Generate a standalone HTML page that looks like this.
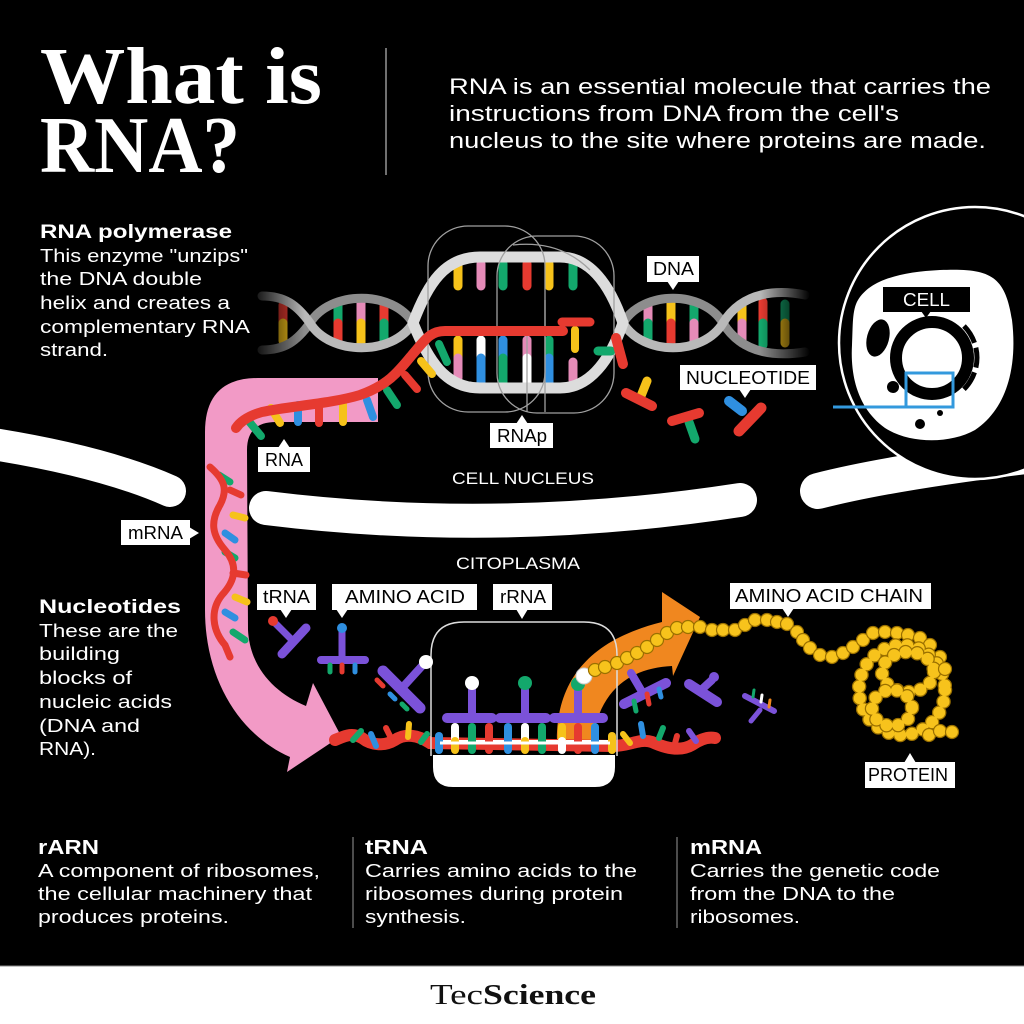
<!DOCTYPE html>
<html>
<head>
<meta charset="utf-8">
<style>
html,body{margin:0;padding:0;background:#000;}
svg{display:block;}
text{font-family:"Liberation Sans",Arial,sans-serif;}
.lbl{font-size:18px;fill:#000;}
.w{fill:#fff;}
</style>
</head>
<body>
<svg width="1024" height="1024" viewBox="0 0 1024 1024" xmlns="http://www.w3.org/2000/svg">
<defs>
  <linearGradient id="fadeL" x1="0" x2="1" y1="0" y2="0">
    <stop offset="0" stop-color="#000" stop-opacity="1"/>
    <stop offset="1" stop-color="#000" stop-opacity="0"/>
  </linearGradient>
  <linearGradient id="fadeR" x1="0" x2="1" y1="0" y2="0">
    <stop offset="0" stop-color="#000" stop-opacity="0"/>
    <stop offset="1" stop-color="#000" stop-opacity="1"/>
  </linearGradient>
</defs>
<rect x="0" y="0" width="1024" height="1024" fill="#000"/>

<!-- ===== Header ===== -->
<text x="40" y="103" font-family="Liberation Serif, serif" font-weight="bold" font-size="80" fill="#fff" textLength="282" lengthAdjust="spacingAndGlyphs" style="font-family:'Liberation Serif',serif">What is</text>
<text x="40" y="172" font-family="Liberation Serif, serif" font-weight="bold" font-size="80" fill="#fff" textLength="200" lengthAdjust="spacingAndGlyphs" style="font-family:'Liberation Serif',serif">RNA?</text>
<line x1="386" y1="48" x2="386" y2="175" stroke="#bbb" stroke-width="1.2"/>
<g font-size="22" fill="#fff">
<text x="449" y="94" textLength="542" lengthAdjust="spacingAndGlyphs">RNA is an essential molecule that carries the</text>
<text x="449" y="121" textLength="450" lengthAdjust="spacingAndGlyphs">instructions from DNA from the cell's</text>
<text x="449" y="148" textLength="537" lengthAdjust="spacingAndGlyphs">nucleus to the site where proteins are made.</text>
</g>

<!-- RNA polymerase text -->
<g fill="#fff" font-size="18.5">
<text x="40" y="238" font-weight="bold" font-size="19" textLength="192" lengthAdjust="spacingAndGlyphs">RNA polymerase</text>
<text x="40" y="262" textLength="208" lengthAdjust="spacingAndGlyphs">This enzyme "unzips"</text>
<text x="40" y="285" textLength="162" lengthAdjust="spacingAndGlyphs">the DNA double</text>
<text x="40" y="309" textLength="190" lengthAdjust="spacingAndGlyphs">helix and creates a</text>
<text x="40" y="333" textLength="210" lengthAdjust="spacingAndGlyphs">complementary RNA</text>
<text x="40" y="356" textLength="68" lengthAdjust="spacingAndGlyphs">strand.</text>
</g>

<!-- Nucleotides text -->
<g fill="#fff" font-size="18.5">
<text x="39" y="613" font-weight="bold" font-size="19" textLength="142" lengthAdjust="spacingAndGlyphs">Nucleotides</text>
<text x="39" y="637" textLength="139" lengthAdjust="spacingAndGlyphs">These are the</text>
<text x="39" y="660" textLength="81" lengthAdjust="spacingAndGlyphs">building</text>
<text x="39" y="684" textLength="93" lengthAdjust="spacingAndGlyphs">blocks of</text>
<text x="39" y="708" textLength="133" lengthAdjust="spacingAndGlyphs">nucleic acids</text>
<text x="39" y="732" textLength="101" lengthAdjust="spacingAndGlyphs">(DNA and</text>
<text x="39" y="755" textLength="57" lengthAdjust="spacingAndGlyphs">RNA).</text>
</g>

<!-- ===== Nuclear membrane bands ===== -->
<g stroke="#fff" stroke-linecap="round" fill="none">
  <path d="M-20,442 Q100,460 170,491" stroke-width="32"/>
  <path d="M266,508 Q500,537 740,500" stroke-width="34"/>
  <path d="M818,491 Q900,470 1060,452" stroke-width="36"/>
</g>

<!-- ===== Cell circle ===== -->
<circle cx="975" cy="343" r="136" fill="#000" stroke="#fff" stroke-width="2.5"/>
<path d="M858,300 C870,280 900,272 940,270 C990,268 1005,275 1012,320 C1018,370 1005,410 975,430 C950,444 910,444 885,428 C860,410 850,380 852,345 C853,325 852,310 858,300 Z" fill="#fff"/>
<ellipse cx="878" cy="338" rx="11" ry="19" transform="rotate(15 878 338)" fill="#000"/>
<circle cx="932" cy="358" r="36" fill="none" stroke="#000" stroke-width="12"/>
<path d="M964,326 A45,45 0 0 1 961,392" fill="none" stroke="#000" stroke-width="5" stroke-dasharray="20 5"/>
<circle cx="893" cy="387" r="6" fill="#000"/>
<circle cx="920" cy="424" r="5" fill="#000"/>
<circle cx="940" cy="413" r="3" fill="#000"/>
<rect x="906" y="373" width="47" height="34" fill="none" stroke="#3399dd" stroke-width="3"/>
<line x1="833" y1="407" x2="907" y2="407" stroke="#3399dd" stroke-width="3"/>
<rect x="883" y="287" width="87" height="25" fill="#000"/>
<polygon points="921,311 931,311 926,318" fill="#000"/>
<text x="903" y="306" font-size="18" fill="#fff" textLength="47" lengthAdjust="spacingAndGlyphs">CELL</text>

<!-- ===== Section labels ===== -->
<text x="452" y="484" font-size="17" fill="#fff" textLength="142" lengthAdjust="spacingAndGlyphs">CELL NUCLEUS</text>
<text x="456" y="569" font-size="17" fill="#fff" textLength="124" lengthAdjust="spacingAndGlyphs">CITOPLASMA</text>

<!-- ===== Pink arrow ===== -->
<path d="M378,378 L258,378 Q205,378 205,432 L205,610 C205,680 240,735 290,757 L287,772 L341,736 L313,683 L306,706 C275,693 250,668 248,630 L247,450 Q247,422 276,422 L378,422 Z" fill="#f29ac6"/>

<!-- mRNA vertical wave -->
<g stroke-linecap="round" fill="none">
  <g stroke-width="7">
    <line x1="219" y1="475" x2="230" y2="482" stroke="#13a86c"/>
    <line x1="230" y1="490" x2="241" y2="495" stroke="#e63a30"/>
    <line x1="233" y1="515" x2="245" y2="518" stroke="#f6c21a"/>
    <line x1="225" y1="533" x2="235" y2="540" stroke="#2f8fe0"/>
    <line x1="225" y1="552" x2="235" y2="558" stroke="#13a86c"/>
    <line x1="233" y1="573" x2="246" y2="575" stroke="#e63a30"/>
    <line x1="235" y1="597" x2="247" y2="602" stroke="#f6c21a"/>
    <line x1="225" y1="612" x2="235" y2="618" stroke="#2f8fe0"/>
    <line x1="233" y1="632" x2="245" y2="640" stroke="#13a86c"/>
  </g>
  <path d="M210,467 C225,480 228,490 220,505 C210,522 212,535 225,550 C238,565 236,580 222,595 C210,610 212,630 225,645 L230,657" stroke="#e63a30" stroke-width="7"/>
</g>

<!-- ===== DNA ===== -->
<!-- left helix bases -->
<g stroke-width="9" stroke-linecap="round">
  <line x1="283" y1="305" x2="283" y2="323" stroke="#e63a30"/><line x1="283" y1="323" x2="283" y2="341" stroke="#f6c21a"/>
  <line x1="338" y1="304" x2="338" y2="323" stroke="#13a86c"/><line x1="338" y1="323" x2="338" y2="343" stroke="#e63a30"/>
  <line x1="361" y1="302" x2="361" y2="323" stroke="#e58bb8"/><line x1="361" y1="323" x2="361" y2="345" stroke="#f6c21a"/>
  <line x1="384" y1="304" x2="384" y2="323" stroke="#e63a30"/><line x1="384" y1="323" x2="384" y2="343" stroke="#13a86c"/>
  <!-- right helix -->
  <line x1="648" y1="304" x2="648" y2="323" stroke="#e58bb8"/><line x1="648" y1="323" x2="648" y2="343" stroke="#13a86c"/>
  <line x1="671" y1="302" x2="671" y2="323" stroke="#f6c21a"/><line x1="671" y1="323" x2="671" y2="345" stroke="#e63a30"/>
  <line x1="694" y1="304" x2="694" y2="323" stroke="#13a86c"/><line x1="694" y1="323" x2="694" y2="343" stroke="#e58bb8"/>
  <line x1="742" y1="304" x2="742" y2="323" stroke="#f6c21a"/><line x1="742" y1="323" x2="742" y2="343" stroke="#e58bb8"/>
  <line x1="763" y1="302" x2="763" y2="323" stroke="#e63a30"/><line x1="763" y1="323" x2="763" y2="345" stroke="#13a86c"/>
  <line x1="785" y1="304" x2="785" y2="323" stroke="#13a86c"/><line x1="785" y1="323" x2="785" y2="343" stroke="#f6c21a"/>
</g>
<!-- helix strands -->
<g fill="none" stroke-width="9" stroke-linecap="round">
  <path d="M262,350 C285,350 297,341 310,323 C330,290 393,290 413,323" stroke="#8d8d8d"/>
  <path d="M262,296 C285,296 297,305 310,323 C330,356 393,356 413,323" stroke="#b9b9b9"/>
  <path d="M623,323 C643,290 703,290 723,323 C743,356 780,356 805,352" stroke="#8d8d8d"/>
  <path d="M623,323 C643,356 703,356 723,323 C743,290 780,290 805,295" stroke="#b9b9b9"/>
</g>
<rect x="250" y="280" width="55" height="85" fill="url(#fadeL)"/>
<rect x="760" y="280" width="50" height="85" fill="url(#fadeR)"/>

<!-- bubble bases -->
<g stroke-width="9" stroke-linecap="round">
  <line x1="458" y1="266" x2="458" y2="286" stroke="#f6c21a"/>
  <line x1="481" y1="264" x2="481" y2="286" stroke="#e58bb8"/>
  <line x1="503" y1="264" x2="503" y2="286" stroke="#13a86c"/>
  <line x1="527" y1="264" x2="527" y2="286" stroke="#e63a30"/>
  <line x1="549" y1="264" x2="549" y2="286" stroke="#f6c21a"/>
  <line x1="573" y1="264" x2="573" y2="286" stroke="#13a86c"/>

  <line x1="458" y1="340" x2="458" y2="358" stroke="#f6c21a"/><line x1="458" y1="358" x2="458" y2="378" stroke="#e58bb8"/>
  <line x1="481" y1="340" x2="481" y2="358" stroke="#ffffff"/><line x1="481" y1="358" x2="481" y2="383" stroke="#2f8fe0"/>
  <line x1="503" y1="340" x2="503" y2="358" stroke="#2f8fe0"/><line x1="503" y1="358" x2="503" y2="383" stroke="#13a86c"/>
  <line x1="527" y1="340" x2="527" y2="358" stroke="#e58bb8"/><line x1="527" y1="358" x2="527" y2="383" stroke="#ffffff"/>
  <line x1="549" y1="340" x2="549" y2="358" stroke="#13a86c"/><line x1="549" y1="358" x2="549" y2="383" stroke="#2f8fe0"/>
  <line x1="573" y1="362" x2="573" y2="380" stroke="#e58bb8"/>
</g>
<!-- bubble strands -->
<g fill="none" stroke="#dcdcdc" stroke-width="11" stroke-linecap="round">
  <path d="M413,323 C428,283 445,257 480,257 L560,257 C590,257 610,285 623,323"/>
  <path d="M413,323 C428,360 445,388 480,388 L560,388 C590,388 610,360 623,323"/>
</g>

<!-- RNAp outlines -->
<g fill="none" stroke="#a0a0a0" stroke-width="1.3">
  <rect x="428" y="226" width="117" height="186" rx="40"/>
  <rect x="497" y="236" width="117" height="177" rx="40"/>
  <path d="M513,245 Q560,240 590,270"/>
  <line x1="527" y1="330" x2="527" y2="412"/>
  <line x1="545" y1="300" x2="545" y2="412"/>
</g>

<!-- RNA pills along strand -->
<g stroke-width="8" stroke-linecap="round">
  <line x1="247" y1="419" x2="261" y2="436" stroke="#13a86c"/>
  <line x1="271" y1="408" x2="280" y2="423" stroke="#f6c21a"/>
  <line x1="298" y1="405" x2="298" y2="422" stroke="#2f8fe0"/>
  <line x1="319" y1="405" x2="319" y2="423" stroke="#e63a30"/>
  <line x1="343" y1="404" x2="343" y2="422" stroke="#f6c21a"/>
  <line x1="367" y1="400" x2="373" y2="417" stroke="#2f8fe0"/>
  <line x1="387" y1="390" x2="397" y2="405" stroke="#13a86c"/>
  <line x1="405" y1="375" x2="417" y2="389" stroke="#e63a30"/>
  <line x1="421" y1="361" x2="432" y2="374" stroke="#f6c21a"/>
  <line x1="439" y1="344" x2="447" y2="362" stroke="#13a86c"/>
  <line x1="575" y1="330" x2="575" y2="349" stroke="#f6c21a"/>
</g>
<!-- red RNA strand -->
<path d="M563,331 L445,331 C430,331 425,340 412,355 C398,372 388,385 360,395 C330,404 290,406 262,412 C248,416 240,422 236,428" fill="none" stroke="#e63a30" stroke-width="10" stroke-linecap="round"/>
<line x1="562" y1="322" x2="590" y2="322" stroke="#e63a30" stroke-width="9" stroke-linecap="round"/>

<!-- Floating nucleotides -->
<g stroke-linecap="round">
  <line x1="598" y1="351" x2="611" y2="351" stroke="#13a86c" stroke-width="9"/>
  <line x1="616" y1="338" x2="623" y2="364" stroke="#e63a30" stroke-width="10"/>
  <line x1="647" y1="381" x2="641" y2="396" stroke="#f6c21a" stroke-width="9"/>
  <line x1="626" y1="393" x2="652" y2="406" stroke="#e63a30" stroke-width="10"/>
  <line x1="689" y1="422" x2="695" y2="439" stroke="#13a86c" stroke-width="9"/>
  <line x1="672" y1="421" x2="699" y2="413" stroke="#e63a30" stroke-width="10"/>
  <line x1="729" y1="401" x2="742" y2="411" stroke="#2f8fe0" stroke-width="10"/>
  <line x1="739" y1="431" x2="761" y2="408" stroke="#e63a30" stroke-width="11"/>
</g>

<!-- ===== Labels (upper) ===== -->
<g>
  <rect x="647" y="256" width="52" height="26" fill="#fff"/><polygon points="667,281 679,281 673,290" fill="#fff"/>
  <text class="lbl" x="653" y="275" textLength="41" lengthAdjust="spacingAndGlyphs">DNA</text>

  <rect x="680" y="365" width="136" height="25" fill="#fff"/><polygon points="739,389 751,389 745,398" fill="#fff"/>
  <text class="lbl" x="686" y="384" textLength="124" lengthAdjust="spacingAndGlyphs">NUCLEOTIDE</text>

  <rect x="490" y="423" width="63" height="25" fill="#fff"/><polygon points="516,424 528,424 522,415" fill="#fff"/>
  <text class="lbl" x="497" y="442" textLength="50" lengthAdjust="spacingAndGlyphs">RNAp</text>

  <rect x="258" y="447" width="52" height="25" fill="#fff"/><polygon points="278,448 290,448 284,439" fill="#fff"/>
  <text class="lbl" x="265" y="466" textLength="38" lengthAdjust="spacingAndGlyphs">RNA</text>

  <rect x="121" y="520" width="69" height="25" fill="#fff"/><polygon points="189,527 189,539 199,533" fill="#fff"/>
  <text class="lbl" x="128" y="539" textLength="55" lengthAdjust="spacingAndGlyphs">mRNA</text>
</g>

<!-- ===== Translation area ===== -->
<!-- orange arrow -->
<path d="M557,745 C555,680 590,640 662,622 L662,592 L700,617 L673,676 L672,666 C630,668 598,690 592,745 Z" fill="#f0871f"/>

<!-- bottom mRNA strand -->
<path d="M335,740 C345,736 352,732 362,738 C372,746 385,746 395,740 C405,733 418,735 430,743 L612,746 C630,746 640,738 652,742 C665,748 680,752 692,745 C702,738 710,737 715,738" fill="none" stroke="#e63a30" stroke-width="12" stroke-linecap="round"/>
<line x1="440" y1="742" x2="612" y2="742" stroke="#fff" stroke-width="4"/>

<!-- ribosome -->
<path d="M431,756 L431,655 Q431,622 464,622 L584,622 Q617,622 617,655 L617,756" fill="none" stroke="#ddd" stroke-width="1.5"/>
<path d="M433,755 L615,755 L615,767 Q615,787 595,787 L453,787 Q433,787 433,767 Z" fill="#fff"/>

<!-- ribosome bases -->
<g stroke-width="8" stroke-linecap="round">
  <line x1="439" y1="736" x2="439" y2="750" stroke="#2f8fe0"/>
  <line x1="455" y1="727" x2="455" y2="740" stroke="#fff"/><line x1="455" y1="741" x2="455" y2="750" stroke="#f6c21a"/>
  <line x1="472" y1="727" x2="472" y2="750" stroke="#13a86c"/>
  <line x1="489" y1="727" x2="489" y2="750" stroke="#e63a30"/>
  <line x1="508" y1="727" x2="508" y2="750" stroke="#2f8fe0"/>
  <line x1="525" y1="727" x2="525" y2="740" stroke="#fff"/><line x1="525" y1="741" x2="525" y2="750" stroke="#f6c21a"/>
  <line x1="542" y1="727" x2="542" y2="750" stroke="#13a86c"/>
  <line x1="562" y1="727" x2="562" y2="740" stroke="#f6c21a"/><line x1="562" y1="741" x2="562" y2="750" stroke="#fff"/>
  <line x1="578" y1="727" x2="578" y2="750" stroke="#e63a30"/>
  <line x1="595" y1="727" x2="595" y2="750" stroke="#2f8fe0"/>
  <line x1="612" y1="736" x2="612" y2="750" stroke="#f6c21a"/>
</g>
<line x1="440" y1="743" x2="610" y2="743" stroke="#fff" stroke-width="3"/>

<!-- ribosome tRNAs -->
<g stroke="#7b52d9" stroke-linecap="round">
  <line x1="472" y1="690" x2="472" y2="716" stroke-width="8"/>
  <line x1="525" y1="690" x2="525" y2="716" stroke-width="8"/>
  <line x1="578" y1="690" x2="578" y2="716" stroke-width="8"/>
  <line x1="447" y1="718" x2="492" y2="718" stroke-width="10"/>
  <line x1="500" y1="718" x2="546" y2="718" stroke-width="10"/>
  <line x1="554" y1="718" x2="603" y2="718" stroke-width="10"/>
</g>
<circle cx="472" cy="683" r="7" fill="#fff"/>
<circle cx="525" cy="683" r="7" fill="#13a86c"/>
<circle cx="578" cy="684" r="7" fill="#13a86c"/>
<circle cx="584" cy="676" r="8" fill="#fff" stroke="#ccc" stroke-width="1"/>

<!-- amino acid chain beads -->
<g fill="#f7c31c" stroke="#9a7000" stroke-width="1.2">
  <circle cx="595" cy="670" r="6.5"/><circle cx="605" cy="667" r="6.5"/><circle cx="617" cy="663" r="6.5"/>
  <circle cx="627" cy="658" r="6.5"/><circle cx="637" cy="653" r="6.5"/><circle cx="647" cy="647" r="6.5"/>
  <circle cx="657" cy="640" r="6.5"/><circle cx="667" cy="633" r="6.5"/><circle cx="677" cy="628" r="6.5"/>
  <circle cx="688" cy="627" r="6.5"/><circle cx="700" cy="627" r="6.5"/><circle cx="712" cy="630" r="6.5"/>
  <circle cx="723" cy="630" r="6.5"/><circle cx="735" cy="630" r="6.5"/><circle cx="745" cy="625" r="6.5"/>
  <circle cx="755" cy="620" r="6.5"/><circle cx="767" cy="620" r="6.5"/><circle cx="777" cy="622" r="6.5"/>
  <circle cx="787" cy="624" r="6.5"/><circle cx="797" cy="632" r="6.5"/><circle cx="803" cy="640" r="6.5"/>
  <circle cx="810" cy="648" r="6.5"/><circle cx="820" cy="655" r="6.5"/><circle cx="832" cy="657" r="6.5"/>
  <circle cx="843" cy="653" r="6.5"/><circle cx="853" cy="647" r="6.5"/><circle cx="863" cy="640" r="6.5"/>
  <circle cx="873" cy="633" r="6.5"/><circle cx="885" cy="632" r="6.5"/><circle cx="897" cy="633" r="6.5"/>
  <circle cx="908" cy="635" r="6.5"/><circle cx="920" cy="638" r="6.5"/><circle cx="930" cy="645" r="6.5"/>
  <circle cx="940" cy="657" r="6.5"/>
</g>
<!-- protein coil -->
<g fill="none" stroke-linecap="round">
  <ellipse cx="902" cy="690" rx="43" ry="45" stroke="#9a7000" stroke-width="14.5" stroke-dasharray="0 11.8"/>
  <ellipse cx="902" cy="690" rx="43" ry="45" stroke="#f7c31c" stroke-width="12" stroke-dasharray="0 11.8"/>
  <ellipse cx="908" cy="672" rx="26" ry="20" stroke="#9a7000" stroke-width="14.5" stroke-dasharray="0 11.8"/>
  <ellipse cx="908" cy="672" rx="26" ry="20" stroke="#f7c31c" stroke-width="12" stroke-dasharray="0 11.8"/>
  <ellipse cx="892" cy="708" rx="20" ry="18" stroke="#9a7000" stroke-width="14.5" stroke-dasharray="0 11.8"/>
  <ellipse cx="892" cy="708" rx="20" ry="18" stroke="#f7c31c" stroke-width="12" stroke-dasharray="0 11.8"/>
</g>
<g fill="#f7c31c" stroke="#9a7000" stroke-width="1.2">
  <circle cx="945" cy="669" r="6.5"/>
  <circle cx="929" cy="735" r="6.5"/><circle cx="940" cy="731" r="6.5"/><circle cx="952" cy="732" r="6.5"/>
</g>

<!-- free tRNAs -->
<g stroke="#7b52d9" stroke-linecap="round">
  <line x1="276" y1="624" x2="291" y2="639" stroke-width="7"/>
  <line x1="306" y1="628" x2="282" y2="654" stroke-width="9"/>
  <line x1="342" y1="631" x2="342" y2="656" stroke-width="7"/>
  <line x1="321" y1="660" x2="365" y2="660" stroke-width="8"/>
  <line x1="422" y1="666" x2="402" y2="688" stroke-width="8"/>
  <line x1="383" y1="671" x2="420" y2="708" stroke-width="11"/>
  <line x1="631" y1="673" x2="641" y2="690" stroke-width="8"/>
  <line x1="624" y1="704" x2="666" y2="683" stroke-width="10"/>
  <line x1="712" y1="680" x2="700" y2="691" stroke-width="8"/>
  <line x1="689" y1="684" x2="717" y2="702" stroke-width="10"/>
  <line x1="745" y1="696" x2="774" y2="711" stroke-width="6"/>
  <line x1="760" y1="710" x2="751" y2="721" stroke-width="5"/>
</g>
<circle cx="273" cy="621" r="5" fill="#e63a30"/>
<circle cx="342" cy="628" r="5" fill="#2f8fe0"/>
<circle cx="426" cy="662" r="7" fill="#fff"/>
<circle cx="714" cy="677" r="5" fill="#7b52d9"/>
<g stroke-linecap="round" stroke-width="5">
  <line x1="330" y1="665" x2="330" y2="672" stroke="#13a86c"/>
  <line x1="342" y1="665" x2="342" y2="672" stroke="#e63a30"/>
  <line x1="355" y1="665" x2="355" y2="672" stroke="#2f8fe0"/>
  <line x1="377" y1="680" x2="383" y2="686" stroke="#e63a30"/>
  <line x1="390" y1="694" x2="395" y2="699" stroke="#2f8fe0"/>
  <line x1="402" y1="704" x2="407" y2="709" stroke="#13a86c"/>
  <line x1="634" y1="701" x2="636" y2="711" stroke="#13a86c"/>
  <line x1="647" y1="694" x2="649" y2="704" stroke="#e63a30"/>
  <line x1="659" y1="689" x2="661" y2="697" stroke="#2f8fe0"/>
  <line x1="754" y1="690" x2="753" y2="697" stroke="#13a86c" stroke-width="3"/>
  <line x1="762" y1="695" x2="761" y2="702" stroke="#fff" stroke-width="3"/>
  <line x1="770" y1="700" x2="769" y2="707" stroke="#f0871f" stroke-width="3"/>
</g>

<!-- scattered pills on bottom mRNA -->
<g stroke-linecap="round" stroke-width="6">
  <line x1="353" y1="740" x2="361" y2="731" stroke="#13a86c"/>
  <line x1="371" y1="734" x2="376" y2="746" stroke="#2f8fe0"/>
  <line x1="386" y1="728" x2="391" y2="738" stroke="#e63a30"/>
  <line x1="409" y1="724" x2="408" y2="737" stroke="#f6c21a"/>
  <line x1="421" y1="742" x2="427" y2="734" stroke="#13a86c"/>
  <line x1="623" y1="734" x2="630" y2="743" stroke="#f6c21a"/>
  <line x1="641" y1="724" x2="643" y2="736" stroke="#2f8fe0"/>
  <line x1="663" y1="728" x2="659" y2="738" stroke="#13a86c"/>
  <line x1="677" y1="736" x2="674" y2="747" stroke="#e63a30"/>
  <line x1="689" y1="731" x2="696" y2="741" stroke="#7b52d9"/>
</g>

<!-- Labels (lower) -->
<g>
  <rect x="257" y="584" width="59" height="26" fill="#fff"/><polygon points="280,609 292,609 286,618" fill="#fff"/>
  <text class="lbl" x="263" y="603" textLength="47" lengthAdjust="spacingAndGlyphs">tRNA</text>

  <rect x="332" y="584" width="145" height="26" fill="#fff"/><polygon points="336,609 348,609 342,618" fill="#fff"/>
  <text class="lbl" x="345" y="603" textLength="120" lengthAdjust="spacingAndGlyphs">AMINO ACID</text>

  <rect x="493" y="584" width="59" height="26" fill="#fff"/><polygon points="516,609 528,609 522,619" fill="#fff"/>
  <text class="lbl" x="500" y="603" textLength="46" lengthAdjust="spacingAndGlyphs">rRNA</text>

  <rect x="730" y="583" width="201" height="26" fill="#fff"/><polygon points="782,608 794,608 788,617" fill="#fff"/>
  <text class="lbl" x="735" y="602" textLength="188" lengthAdjust="spacingAndGlyphs">AMINO ACID CHAIN</text>

  <rect x="865" y="762" width="90" height="26" fill="#fff"/><polygon points="904,763 916,763 910,753" fill="#fff"/>
  <text class="lbl" x="868" y="781" textLength="80" lengthAdjust="spacingAndGlyphs">PROTEIN</text>
</g>

<!-- ===== Bottom columns ===== -->
<line x1="353" y1="837" x2="353" y2="928" stroke="#999" stroke-width="1"/>
<line x1="677" y1="837" x2="677" y2="928" stroke="#999" stroke-width="1"/>
<g fill="#fff" font-size="18.5">
  <text x="38" y="854" font-weight="bold" font-size="20" textLength="61" lengthAdjust="spacingAndGlyphs">rARN</text>
  <text x="38" y="877" textLength="282" lengthAdjust="spacingAndGlyphs">A component of ribosomes,</text>
  <text x="38" y="900" textLength="274" lengthAdjust="spacingAndGlyphs">the cellular machinery that</text>
  <text x="38" y="923" textLength="191" lengthAdjust="spacingAndGlyphs">produces proteins.</text>

  <text x="365" y="854" font-weight="bold" font-size="20" textLength="63" lengthAdjust="spacingAndGlyphs">tRNA</text>
  <text x="365" y="877" textLength="272" lengthAdjust="spacingAndGlyphs">Carries amino acids to the</text>
  <text x="365" y="900" textLength="258" lengthAdjust="spacingAndGlyphs">ribosomes during protein</text>
  <text x="365" y="923" textLength="101" lengthAdjust="spacingAndGlyphs">synthesis.</text>

  <text x="690" y="854" font-weight="bold" font-size="20" textLength="72" lengthAdjust="spacingAndGlyphs">mRNA</text>
  <text x="690" y="877" textLength="250" lengthAdjust="spacingAndGlyphs">Carries the genetic code</text>
  <text x="690" y="900" textLength="205" lengthAdjust="spacingAndGlyphs">from the DNA to the</text>
  <text x="690" y="923" textLength="110" lengthAdjust="spacingAndGlyphs">ribosomes.</text>
</g>

<!-- ===== Footer ===== -->
<rect x="0" y="966" width="1024" height="58" fill="#fff"/>
<line x1="0" y1="966" x2="1024" y2="966" stroke="#888" stroke-width="1"/>
<text x="430" y="1004" font-size="28" fill="#111" textLength="53" lengthAdjust="spacingAndGlyphs" style="font-family:'Liberation Serif',serif">Tec</text>
<text x="483" y="1004" font-size="28" font-weight="bold" fill="#111" textLength="113" lengthAdjust="spacingAndGlyphs" style="font-family:'Liberation Serif',serif">Science</text>
</svg>
</body>
</html>
